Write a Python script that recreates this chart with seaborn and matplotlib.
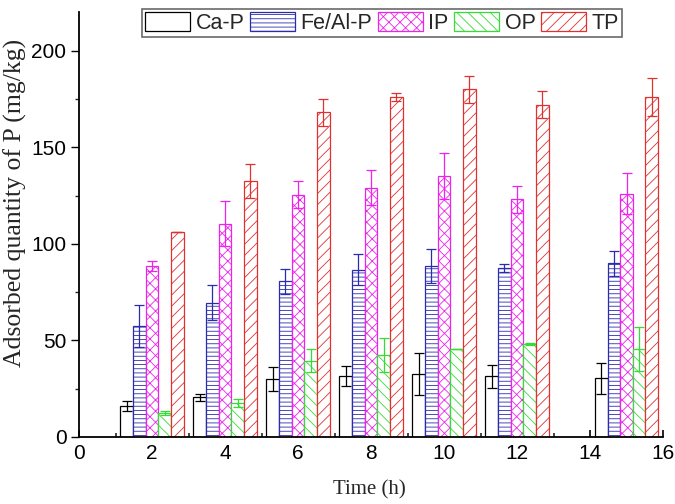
import pandas as pd
import matplotlib
matplotlib.use('Agg')
import matplotlib.pyplot as plt
from matplotlib.ticker import MultipleLocator
import numpy as np
import seaborn as sns

# data
times = [2, 4, 6, 8, 10, 12, 15]
species = ['Ca-P', 'Fe/Al-P', 'IP', 'OP', 'TP']

ca_p = [16, 20.5, 30, 31.5, 32.5, 31.5, 30.5]
ca_p_err = [2.5, 2, 6, 5, 11, 6, 8]
fe_al_p = [57.5, 69.5, 80.5, 86.5, 88.5, 87.5, 90]
fe_al_p_err = [11, 9, 6.5, 8, 9, 2, 6.5]
ip = [88.5, 110.5, 125.5, 129, 135, 123, 126]
ip_err = [2.5, 11.5, 7, 9, 12, 7, 10.5]
op = [12.5, 17.5, 39.5, 42.5, 45.5, 48, 45.5]
op_err = [1, 2, 6, 9, 0, 0.5, 11.5]
tp = [106, 132.5, 168, 176, 180, 172, 176]
tp_err = [0, 9, 7, 2, 7, 7, 10]

edge_colors = ['black', '#2b2bb0', '#ee22ee', '#33dd33', '#e03030']
hatches = ['', '----', 'xxx', '\\\\\\', '///']

values = [ca_p, fe_al_p, ip, op, tp]
errors = [ca_p_err, fe_al_p_err, ip_err, op_err, tp_err]

# long form table for seaborn
rows = []
for sp, vals, errs in zip(species, values, errors):
    for t, v, e in zip(times, vals, errs):
        rows.append({'time': t, 'species': sp, 'value': v, 'err': e})
df = pd.DataFrame(rows)

sns.set_style('ticks')
plt.rcParams['hatch.linewidth'] = 0.6
plt.rcParams['font.family'] = ['Liberation Sans', 'DejaVu Sans']

fig = plt.figure(figsize=(6.75, 5.04), dpi=100)
ax = fig.add_axes([79 / 675, 1 - 437 / 504, 584 / 675, 425 / 504])

sns.barplot(data=df, x='time', y='value', hue='species', hue_order=species,
            native_scale=True, width=0.865, errorbar=None, legend=False,
            fill=True, ax=ax)

# style each series and add its error bars
for cont, ec, h, sp in zip(ax.containers, edge_colors, hatches, species):
    sub = df[df.species == sp]
    xs = []
    for patch in cont:
        patch.set_facecolor('white')
        patch.set_edgecolor(ec)
        patch.set_hatch(h)
        patch.set_linewidth(0.9)
        xs.append(patch.get_x() + patch.get_width() / 2)
    ax.errorbar(xs, sub['value'].values, yerr=sub['err'].values, fmt='none',
                ecolor=ec, elinewidth=0.9, capsize=3.5, capthick=0.9)

ax.set_xlim(0, 16)
ax.set_ylim(0, 220)
ax.xaxis.set_major_locator(MultipleLocator(2))
ax.xaxis.set_minor_locator(MultipleLocator(1))
ax.yaxis.set_major_locator(MultipleLocator(50))
ax.yaxis.set_minor_locator(MultipleLocator(25))
ax.tick_params(axis='x', which='major', direction='in', length=5, width=1.2,
               labelsize=15, pad=5, colors='black')
ax.tick_params(axis='x', which='minor', direction='in', length=3, width=1.2)
ax.tick_params(axis='y', which='major', direction='out', length=6, width=1.0,
               labelsize=15, pad=3, colors='black')
ax.tick_params(axis='y', which='minor', direction='out', length=3, width=1.0)

sns.despine(ax=ax)
for s in ['left', 'bottom']:
    ax.spines[s].set_linewidth(1.3)
    ax.spines[s].set_color('black')

ax.set_xlabel('Time (h)', family='Liberation Serif', fontsize=15)
ax.set_ylabel('Adsorbed quantity of P (mg/kg)', family='Liberation Serif',
              fontsize=18.5)
ax.xaxis.set_label_coords((369 - 79) / 584, -(480 - 437) / 425)
ax.yaxis.set_label_coords(-(79 - 27) / 584, (437 - 203) / 425)

leg = ax.legend(ax.containers, species, loc='upper center', ncol=5,
                bbox_to_anchor=(382 / 675, 1 - 9 / 504), bbox_transform=fig.transFigure,
                frameon=True, fancybox=False, fontsize=15.5, handlelength=2.1,
                handleheight=1.0, handletextpad=0.25, columnspacing=0.25,
                borderpad=0.15, borderaxespad=0)
leg.get_frame().set_edgecolor('#444444')
leg.get_frame().set_linewidth(1.2)

fig.savefig('out.png', dpi=100)
